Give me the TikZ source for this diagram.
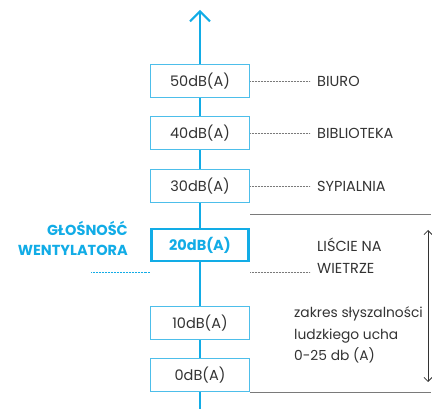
\documentclass[tikz,border=0pt]{standalone}
\usepackage{fontspec}
\setmainfont{Poppins}
\usetikzlibrary{arrows.meta}
\definecolor{fanblue}{HTML}{12ACE6}
\definecolor{boxblue}{HTML}{4DBEEA}
\definecolor{txtgray}{HTML}{333333}
\definecolor{linegray}{HTML}{7A7A7A}
\begin{document}
\begin{tikzpicture}[x=1pt,y=-1pt,
    level/.style={draw=boxblue,line width=1pt,fill=white,minimum width=99pt,minimum height=33pt,inner sep=0pt,font=\fontsize{14.5}{16}\selectfont,text=txtgray},
    place/.style={draw=none,anchor=west,inner sep=0pt,align=left,text=txtgray},
    dots/.style={draw=linegray,line width=0.7pt,dash pattern=on 0.7pt off 0.8pt}]
    \useasboundingbox (0,0) rectangle (432,409);

    % axis
    \coordinate (a0) at (200,409);
    \coordinate (a1) at (200,10);
    \draw [fanblue,line width=2.5pt,-{Straight Barb[length=10pt,width=20pt,line width=2pt]}] (a0) -- (a1);

    % levels
    \node [level,name=b50] at (200,81) {50dB(A)};
    \node [level,name=b40] at (200,133) {40dB(A)};
    \node [level,name=b30] at (200,186) {30dB(A)};
    \node [level,name=b20,draw=fanblue,line width=2.5pt,minimum height=32pt,minimum width=97pt,text=fanblue,font=\fontsize{14.5}{16}\selectfont\bfseries] at (200,245) {20dB(A)};
    \node [level,name=b10] at (200,323.5) {10dB(A)};
    \node [level,name=b0] at (200,375.5) {0dB(A)};

    % places
    \node [place,font=\fontsize{14.5}{16}\selectfont,name=l50] at (317,81) {BIURO};
    \node [place,font=\fontsize{14.5}{16}\selectfont,name=l40] at (317,133) {BIBLIOTEKA};
    \node [place,font=\fontsize{14.5}{16}\selectfont,name=l30] at (317,186) {SYPIALNIA};
    \draw [dots,shorten >=7pt] (b50.east) -- (l50.west);
    \draw [dots,shorten >=7pt] (b40.east) -- (l40.west);
    \draw [dots,shorten >=7pt] (b30.east) -- (l30.west);

    % leaves
    \node [place,font=\fontsize{14.5}{22}\selectfont,name=l20] at (317,256) {LIŚCIE NA\\WIETRZE};
    \coordinate (c20) at (250,272);
    \draw [dots,shorten >=7pt] (c20) -- (c20 -| l20.west);

    % fan
    \node [draw=none,anchor=east,inner sep=0pt,align=right,text=fanblue,font=\fontsize{14.5}{20}\selectfont\bfseries,name=fan] at (128,238) {GŁOŚNOŚĆ\\WENTYLATORA};
    \coordinate (f0) at (91,272);
    \draw [dots,draw=fanblue] (f0) -- (f0 -| b20.west);

    % hearing range
    \coordinate (r25) at (431,215);
    \draw [linegray,line width=1pt] (r25 -| b30.east) -- (r25);
    \draw [linegray,line width=1pt] (b0.south east) -- (b0.south east -| r25);
    \coordinate (h1) at (428,230);
    \coordinate (h0) at (428,382);
    \draw [txtgray,line width=0.8pt,{Straight Barb[length=4pt,width=8pt]}-{Straight Barb[length=4pt,width=8pt]}] (h1) -- (h0);
    \node [place,font=\fontsize{13.8}{21.5}\selectfont,name=ear] at (294,335) {zakres słyszalności\\ludzkiego ucha\\0-25 db (A)};
  \end{tikzpicture}
\end{document}
